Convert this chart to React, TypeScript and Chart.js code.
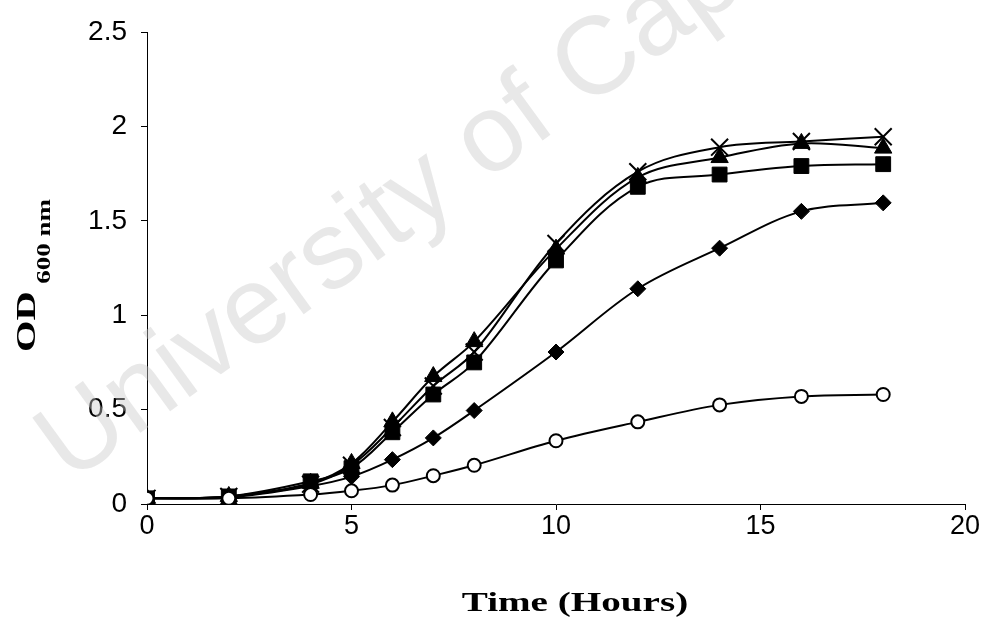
import React, { useEffect, useRef } from "react";
import { Chart, registerables } from "chart.js";

Chart.register(...registerables);

// ---- data ----
const TIME_HOURS = [0, 2, 4, 5, 6, 7, 8, 10, 12, 14, 16, 18];
const SERIES_CIRCLE = [0.03, 0.03, 0.05, 0.07, 0.1, 0.15, 0.205, 0.335, 0.435, 0.525, 0.57, 0.58];
const SERIES_DIAMOND = [0.03, 0.035, 0.095, 0.145, 0.235, 0.35, 0.495, 0.805, 1.14, 1.355, 1.55, 1.595];
const SERIES_SQUARE = [0.03, 0.04, 0.12, 0.19, 0.38, 0.58, 0.75, 1.29, 1.68, 1.745, 1.79, 1.8];
const SERIES_TRIANGLE = [0.03, 0.04, 0.11, 0.215, 0.435, 0.675, 0.86, 1.35, 1.73, 1.835, 1.91, 1.885];
const SERIES_CROSS = [0.03, 0.04, 0.105, 0.205, 0.405, 0.625, 0.805, 1.38, 1.76, 1.89, 1.92, 1.945];

const X_MIN = 0;
const X_MAX = 20;
const X_STEP = 5;
const Y_MIN = 0;
const Y_MAX = 2.5;
const Y_STEP = 0.5;

const X_TITLE = "Time (Hours)";
const Y_TITLE_MAIN = "OD";
const Y_TITLE_SUB = "600 nm";
const WATERMARK = "University of Cape Town";

const toPoints = (ys: number[]) => TIME_HOURS.map((x, i) => ({ x, y: ys[i] }));

const titlesPlugin = {
  id: "customTitles",
  beforeDatasetsDraw(chart: any) {
    const ctx = chart.ctx as CanvasRenderingContext2D;
    ctx.save();
    ctx.fillStyle = "rgba(200,200,200,0.42)";
    ctx.font = '110px "Liberation Sans", Arial, sans-serif';
    ctx.translate(70, 484);
    ctx.rotate(-36 * Math.PI / 180);
    ctx.textBaseline = "alphabetic";
    ctx.textAlign = "left";
    ctx.fillText(WATERMARK, 0, 0);
    ctx.restore();
  },
  afterDraw(chart: any) {
    const ctx = chart.ctx as CanvasRenderingContext2D;
    const area = chart.chartArea;
    // x title
    ctx.save();
    ctx.fillStyle = "#000";
    ctx.font = 'bold 27px "Liberation Serif", "Times New Roman", serif';
    ctx.textAlign = "center";
    ctx.textBaseline = "alphabetic";
    ctx.translate((area.left + area.right) / 2 + 19, 611);
    ctx.scale(1.45, 1);
    ctx.fillText(X_TITLE, 0, 0);
    ctx.restore();

    // y title with subscript
    ctx.save();
    ctx.fillStyle = "#000";
    ctx.translate(35, 352);
    ctx.rotate(-Math.PI / 2);
    ctx.scale(1.5, 1);
    ctx.textAlign = "left";
    ctx.textBaseline = "alphabetic";
    ctx.font = 'bold 27px "Liberation Serif", "Times New Roman", serif';
    ctx.fillText(Y_TITLE_MAIN, 0, 0);
    const w = ctx.measureText(Y_TITLE_MAIN).width;
    ctx.font = 'bold 18px "Liberation Serif", "Times New Roman", serif';
    ctx.fillText(Y_TITLE_SUB, w + 5, 15);
    ctx.restore();
  },
};

const fmt = (v: any) => String(Number(v));

export default function App() {
  const ref = useRef<HTMLCanvasElement>(null);

  useEffect(() => {
    const canvas = ref.current;
    if (!canvas) return;
    const common = {
      borderColor: "#000",
      borderWidth: 2,
      tension: 0.35,
      showLine: true,
      fill: false,
      pointBorderColor: "#000",
    };
    const chart = new Chart(canvas, {
      type: "scatter",
      data: {
        datasets: [
          {
            ...common,
            label: "circle",
            data: toPoints(SERIES_CIRCLE),
            pointStyle: "circle",
            pointRadius: 6.5,
            pointBorderWidth: 2,
            pointBackgroundColor: "#fff",
          },
          {
            ...common,
            label: "diamond",
            data: toPoints(SERIES_DIAMOND),
            pointStyle: "rectRot",
            pointRadius: 8,
            pointBorderWidth: 1,
            pointBackgroundColor: "#000",
          },
          {
            ...common,
            label: "square",
            data: toPoints(SERIES_SQUARE),
            pointStyle: "rect",
            pointRadius: 10.5,
            pointBorderWidth: 1,
            pointBackgroundColor: "#000",
          },
          {
            ...common,
            label: "triangle",
            data: toPoints(SERIES_TRIANGLE),
            pointStyle: "triangle",
            pointRadius: 10,
            pointBorderWidth: 1,
            pointBackgroundColor: "#000",
          },
          {
            ...common,
            label: "cross",
            data: toPoints(SERIES_CROSS),
            pointStyle: "crossRot",
            pointRadius: 12,
            pointBorderWidth: 2,
            pointBackgroundColor: "#000",
          },
        ],
      },
      options: {
        animation: false,
        responsive: false,
        devicePixelRatio: 1,
        layout: { padding: { top: 32, right: 19, left: 0, bottom: 0 } },
        plugins: {
          legend: { display: false },
          tooltip: { enabled: false },
          title: { display: false },
        },
        scales: {
          x: {
            type: "linear",
            min: X_MIN,
            max: X_MAX,
            afterFit: (scale: any) => {
              scale.height = 124;
            },
            ticks: {
              stepSize: X_STEP,
              color: "#000",
              padding: 0,
              callback: fmt,
              font: { family: '"Liberation Sans", Arial, sans-serif', size: 27 },
            },
            grid: { drawOnChartArea: false, drawTicks: true, tickLength: 6, color: "#000" },
            border: { color: "#000", width: 1 },
          },
          y: {
            type: "linear",
            min: Y_MIN,
            max: Y_MAX,
            afterFit: (scale: any) => {
              scale.width = 147;
            },
            ticks: {
              stepSize: Y_STEP,
              color: "#000",
              padding: 14,
              callback: fmt,
              font: { family: '"Liberation Sans", Arial, sans-serif', size: 28 },
            },
            grid: { drawOnChartArea: false, drawTicks: true, tickLength: 6, color: "#000" },
            border: { color: "#000", width: 1 },
          },
        },
      },
      plugins: [titlesPlugin],
    } as any);
    return () => chart.destroy();
  }, []);

  return (
    <div style={{ position: "fixed", left: 0, top: 0, width: 984, height: 628, background: "#fff" }}>
      <canvas ref={ref} width={984} height={628} style={{ display: "block" }} />
    </div>
  );
}
